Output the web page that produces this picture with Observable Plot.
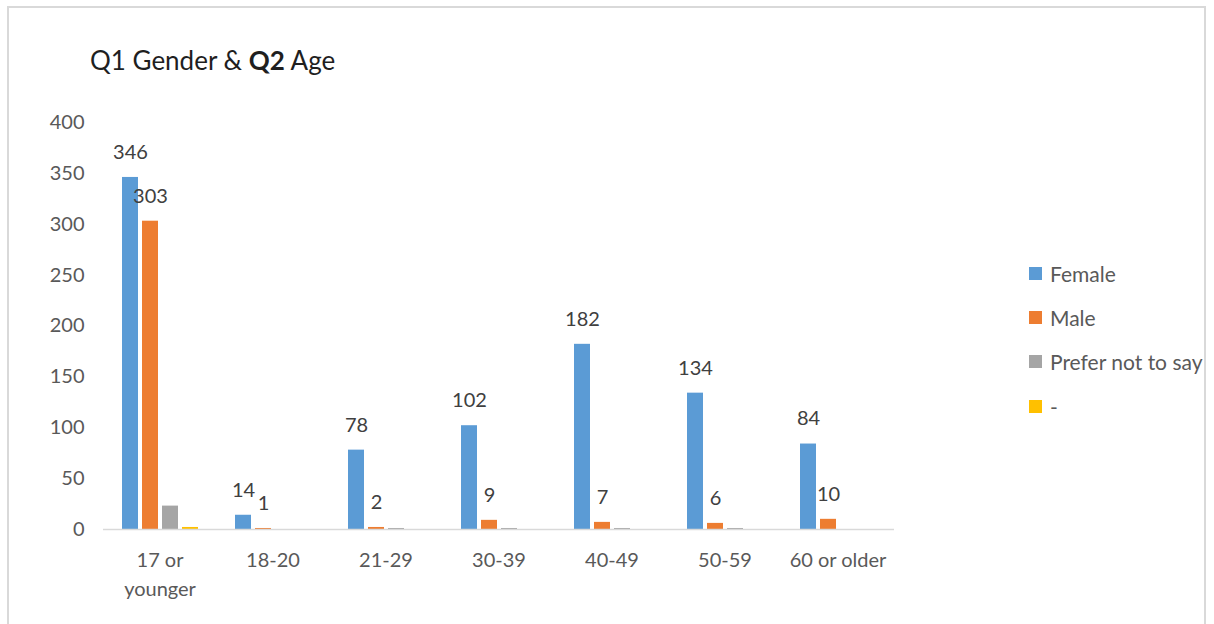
<!DOCTYPE html>
<html>
<head>
<meta charset="utf-8">
<script src="https://cdn.jsdelivr.net/npm/d3@7"></script>
<script src="https://cdn.jsdelivr.net/npm/@observablehq/plot@0.6"></script>
<style>
  html, body { margin: 0; padding: 0; background: #fff; }
  #wrap { position: relative; width: 1214px; height: 624px; overflow: hidden; font-family: Lato, "Open Sans", sans-serif; }
  #frame { position: absolute; left: 7px; top: 6px; width: 1199px; height: 700px; border: 2px solid #d9d9d9; box-sizing: border-box; }
  #title { position: absolute; left: 90px; top: 47px; font-size: 26px; line-height: 1; color: #1f1f1f; white-space: nowrap; }
  #chart { position: absolute; left: 0; top: 0; }
  #legend { position: absolute; left: 1029px; top: 251px; }
  .item { display: flex; align-items: center; height: 44.3px; font-size: 21px; color: #595959; white-space: nowrap; }
  .sw { width: 13px; height: 13px; margin-right: 8px; flex: none; }
</style>
</head>
<body>
<div id="wrap">
  <div id="frame"></div>
  <div id="chart"></div>
  <div id="title">Q1 Gender &amp; <b>Q2</b> Age</div>
  <div id="legend"></div>
</div>
<script>
const ages = ["17 or younger", "18-20", "21-29", "30-39", "40-49", "50-59", "60 or older"];
const series = ["Female", "Male", "Prefer not to say", "-"];
const colors = ["#5B9BD5", "#ED7D31", "#A5A5A5", "#FFC000"];
const female = [346, 14, 78, 102, 182, 134, 84];
const male = [303, 1, 2, 9, 7, 6, 10];
const preferNot = [23, 0, 1, 1, 1, 1, 0];
const dash = [2, 0, 0, 0, 0, 0, 0];
const yTicks = [0, 50, 100, 150, 200, 250, 300, 350, 400];
const labeledSeries = ["Female", "Male"];

const valuesBySeries = [female, male, preferNot, dash];
const data = [];
ages.forEach((age, i) => {
  series.forEach((s, j) => {
    data.push({age, gender: s, value: valuesBySeries[j][i]});
  });
});

const chart = Plot.plot({
  width: 1214,
  height: 624,
  marginLeft: 100,
  marginRight: 317,
  marginTop: 122,
  marginBottom: 95,
  style: {fontFamily: "Lato, 'Open Sans', sans-serif", background: "transparent"},
  fx: {domain: ages, padding: 0, label: null},
  x: {domain: series, paddingInner: 0.21, paddingOuter: 0.91, axis: null},
  y: {domain: [0, 400], label: null},
  color: {domain: series, range: colors},
  marks: [
    Plot.axisY({ticks: yTicks, tickSize: 0, tickPadding: 19, fontSize: 20, fill: "#595959", label: null}),
    Plot.axisFx({anchor: "bottom", tickSize: 0, tickPadding: 17, fontSize: 20, fill: "#595959", lineHeight: 1.45, label: null,
      tickFormat: d => d === "17 or younger" ? "17 or\nyounger" : d}),
    Plot.barY(data.filter(d => d.value > 0), {fx: "age", x: "gender", y: "value", fill: "gender"}),
    Plot.ruleY([0], {stroke: "#d9d9d9", strokeWidth: 1.5}),
    Plot.text(data.filter(d => labeledSeries.includes(d.gender)), {
      fx: "age", x: "gender", y: "value", text: d => String(d.value),
      dy: -25, fontSize: 20, fill: "#404040"
    })
  ]
});
document.getElementById("chart").appendChild(chart);

const legend = document.getElementById("legend");
series.forEach((s, j) => {
  const row = document.createElement("div");
  row.className = "item";
  const sw = document.createElement("span");
  sw.className = "sw";
  sw.style.background = colors[j];
  const t = document.createElement("span");
  t.textContent = s;
  row.appendChild(sw);
  row.appendChild(t);
  legend.appendChild(row);
});
</script>
</body>
</html>
